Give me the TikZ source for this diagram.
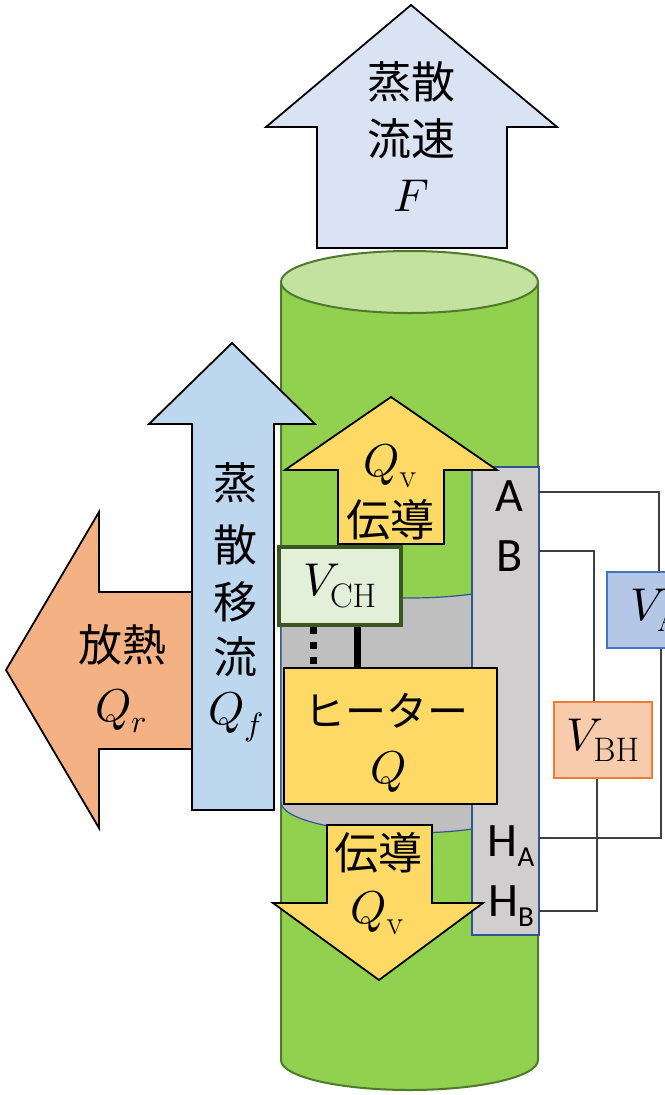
\documentclass[tikz,border=0pt]{standalone}
\usepackage{fontspec}
\usepackage{unicode-math}
\setmathfont{Latin Modern Math}
\newfontfamily\jpfont{Noto Sans CJK JP}
\newfontfamily\pinfont{Carlito}
\usepackage{tikz}
\definecolor{flowBlue}{HTML}{DAE3F3}
\definecolor{sapBlue}{HTML}{BDD7EE}
\definecolor{heatOrange}{HTML}{F4B183}
\definecolor{condYellow}{HTML}{FFD966}
\definecolor{cylGreen}{HTML}{92D050}
\definecolor{cylTop}{HTML}{C3E2A0}
\definecolor{cylLine}{HTML}{4F7A2C}
\definecolor{bandGray}{HTML}{BFBFBF}
\definecolor{panelGray}{HTML}{D0CECE}
\definecolor{panelLine}{HTML}{2F5597}
\definecolor{chFill}{HTML}{E2F0D9}
\definecolor{chLine}{HTML}{385723}
\definecolor{vaFill}{HTML}{B4C7E7}
\definecolor{vaLine}{HTML}{4472C4}
\definecolor{vbFill}{HTML}{F8CBAD}
\definecolor{vbLine}{HTML}{ED7D31}
\definecolor{wireCol}{HTML}{404040}
\tikzset{
  blockArrow/.style={draw=black, line width=1.8pt, line join=miter},
  cylEdge/.style={draw=cylLine, line width=2pt},
  jpLbl/.style={font=\jpfont\fontsize{44}{50}\selectfont, inner sep=0pt},
  mathLbl/.style={font=\fontsize{46}{50}\selectfont, inner sep=0pt},
  pinLbl/.style={font=\pinfont\fontsize{48}{50}\selectfont, inner sep=0pt},
  meterBox/.style={rectangle, line width=1.5pt, minimum width=98pt, minimum height=76pt,
    inner sep=0pt, font=\fontsize{46}{50}\selectfont},
  wire/.style={draw=wireCol, line width=1.2pt},
  probe/.style={draw=black, line width=7pt},
}
\newcommand{\pinSub}[1]{\raisebox{-0.22em}{\fontsize{29}{30}\selectfont #1}}
% upright subscripts, a bit larger than the default script size
\newcommand{\rmSub}[1]{\mbox{\fontsize{34}{36}\selectfont #1}}

\begin{document}
\begin{tikzpicture}[x=1pt, y=1pt]
  \useasboundingbox[fill=white] (0,0) rectangle (664,-1095);

  % transpiration flow rate, above the stem
  \draw[blockArrow, fill=flowBlue] (411,-5) -- (557,-127) -- (507,-127) -- (507,-248)
    -- (317,-248) -- (317,-127) -- (266,-127) -- cycle;
  \node[jpLbl]   (flowA) at (411,-82)  {蒸散};
  \node[jpLbl]   (flowB) at (411,-139) {流速};
  \node[mathLbl] (flowF) at (411,-196) {$F$};

  % stem
  \fill[cylGreen] (281,-282) -- (281,-1060)
    arc[start angle=180, end angle=360, x radius=128.5, y radius=30] -- (538,-282) -- cycle;
  \draw[cylEdge] (281,-282) -- (281,-1060)
    arc[start angle=180, end angle=360, x radius=128.5, y radius=30] -- (538,-282);
  \draw[cylEdge, fill=cylTop] (409.5,-282) ellipse[x radius=128.5, y radius=31];

  % heated section
  \draw[draw=panelLine, line width=1.2pt, fill=bandGray] (281,-567)
    arc[start angle=180, end angle=360, x radius=128.5, y radius=31] -- (538,-802)
    arc[start angle=360, end angle=180, x radius=128.5, y radius=31] -- cycle;

  % sensor strip
  \draw[draw=panelLine, line width=1.5pt, fill=panelGray] (472,-467) rectangle (539,-935);
  \coordinate (pinA)  at (539,-492);
  \coordinate (pinB)  at (539,-551);
  \coordinate (pinHA) at (539,-838);
  \coordinate (pinHB) at (539,-911);

  % radiation loss
  \draw[blockArrow, fill=heatOrange] (6,-670) -- (99,-512) -- (99,-592) -- (192,-592)
    -- (192,-749) -- (99,-749) -- (99,-828) -- cycle;
  \node[jpLbl]   (radA) at (122,-645) {放熱};
  \node[mathLbl] (radQ) at (121,-711) {$Q_r$};

  % sap flow advection
  \draw[blockArrow, fill=sapBlue] (232,-343) -- (315,-424) -- (274,-424) -- (274,-810)
    -- (192,-810) -- (192,-424) -- (149,-424) -- cycle;
  \node[jpLbl]   (sapA) at (235,-483) {蒸};
  \node[jpLbl]   (sapB) at (235,-545) {散};
  \node[jpLbl]   (sapC) at (235,-602) {移};
  \node[jpLbl]   (sapD) at (235,-657) {流};
  \node[mathLbl] (sapQ) at (236,-717) {$Q_f$};

  % conduction up and down
  \draw[blockArrow, fill=condYellow] (391,-397) -- (497,-470) -- (444,-470) -- (444,-544)
    -- (338,-544) -- (338,-470) -- (285,-470) -- cycle;
  \node[mathLbl] (upQ) at (390,-466) {$Q_{\rmSub{v}}$};
  \node[jpLbl]   (upA) at (390,-520) {伝導};

  \draw[blockArrow, fill=condYellow] (327,-825) -- (432,-825) -- (432,-903) -- (483,-903)
    -- (379,-980) -- (273,-903) -- (327,-903) -- cycle;
  \node[jpLbl]   (dnA) at (378,-853) {伝導};
  \node[mathLbl] (dnQ) at (377,-913) {$Q_{\rmSub{v}}$};

  % heater and its thermocouple
  \node[draw=chLine, line width=4pt, fill=chFill, minimum width=122pt, minimum height=78pt,
    inner sep=0pt, font=\fontsize{46}{50}\selectfont] (vch) at (340,-586) {$V_{\rmSub{CH}}$};
  \node[draw=black, line width=1.2pt, fill=condYellow, minimum width=213pt,
    minimum height=136pt, inner sep=0pt] (heater) at (390.5,-736) {};
  \node[font=\jpfont\fontsize{41}{50}\selectfont, inner sep=0pt] (heatA) at (386,-711) {ヒーター};
  \node[mathLbl] (heatQ) at (389,-772) {$Q$};
  \draw[probe] ([xshift=17pt]vch.south) -- ([xshift=17pt]vch.south |- heater.north);
  \draw[probe, dash pattern=on 7pt off 8pt] ([xshift=-27pt]vch.south)
    -- ([xshift=-27pt]vch.south |- heater.north);

  % strip terminals
  \node[pinLbl] (tagA)  at (509,-496) {A};
  \node[pinLbl] (tagB)  at (510,-556) {B};
  \node[pinLbl] (tagHA) at (511,-846) {H\pinSub{A}};
  \node[pinLbl] (tagHB) at (511,-906) {H\pinSub{B}};

  % voltmeters
  \node[meterBox, draw=vaLine, fill=vaFill] (meterA)  at (656,-610) {$V_{\rmSub{A}}$};
  \node[meterBox, draw=vbLine, fill=vbFill] (meterBH) at (603,-740) {$V_{\rmSub{BH}}$};
  \draw[wire] (pinA) -| ([xshift=3pt]meterA.north);
  \draw[wire] ([xshift=5pt]meterA.south) |- (pinHA);
  \draw[wire] (pinB) -| ([xshift=-9pt]meterBH.north);
  \draw[wire] ([xshift=-6pt]meterBH.south) |- (pinHB);
\end{tikzpicture}
\end{document}
